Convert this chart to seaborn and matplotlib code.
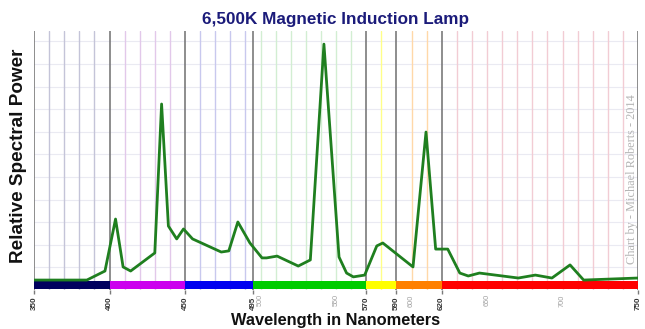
import numpy as np
import pandas as pd
import matplotlib
matplotlib.use("Agg")
import matplotlib.pyplot as plt
import seaborn as sns

# ---- data ----
wavelength = [350, 385, 397, 404, 409, 414, 430, 434.5, 439, 444.5, 449, 455, 474, 479,
              485, 493, 501, 504, 511, 525, 533, 542, 552, 557, 561.5, 569, 577, 581,
              601, 609.6, 616, 624, 632, 637.6, 645, 670.7, 682, 693, 705, 714, 750]
power = [4.4, 4.4, 8.4, 31.4, 10.2, 8.4, 16.4, 82.3, 28.3, 22.6, 27.0, 22.6, 16.8, 17.3,
         30.1, 20.8, 14.2, 14.2, 15.0, 10.6, 13.3, 108.8, 14.6, 7.5, 5.8, 6.6, 19.5, 20.8,
         10.2, 69.9, 18.1, 18.1, 7.5, 6.2, 7.5, 5.3, 6.6, 5.3, 11.1, 4.4, 5.3]

region_start = [350, 400, 450, 495, 570, 590, 620]
region_end = [400, 450, 495, 570, 590, 620, 750]
region_color = ["#00005e", "#cc00ee", "#0000f0", "#00cc00", "#ffff00", "#ff8000", "#ff0000"]
grid_color = ["#c4c4d8", "#e2c8ea", "#c8c8ee", "#d2eed2", "#ffff88", "#ffd8a8", "#f2ccd4"]

major_ticks = [350, 400, 450, 495, 570, 590, 620, 750]
minor_ticks = [500, 550, 600, 650, 700]

title = "6,500K Magnetic Induction Lamp"
xlabel = "Wavelength in Nanometers"
ylabel = "Relative Spectral Power"
credit = "Chart by - Michael Roberts - 2014"

# ---- figure ----
sns.set_theme(style="white")
plt.rcParams["font.family"] = ["Liberation Sans", "DejaVu Sans"]

fig = plt.figure(figsize=(6.45, 3.29), dpi=100)
ax = fig.add_axes([34 / 645, 39 / 329, 604 / 645, 259 / 329])
ymax = 114.6
ax.set_xlim(350, 750)
ax.set_ylim(0, ymax)

# horizontal grid
for y in np.arange(10, ymax, 10):
    ax.axhline(y, color="#eaeaf2", lw=0.8, zorder=0)

# vertical grid coloured per region
for s, e, gc in zip(region_start, region_end, grid_color):
    for x in np.arange(s + 10 - (s % 10), e, 10):
        if x in region_start or x in region_end:
            continue
        ax.axvline(x, color=gc, lw=1.0, zorder=0.5)
for b in sorted(set(region_start + region_end)):
    ax.axvline(b, color="#7a7a7a", lw=1.2, zorder=1)

# colour band
widths = [e - s for s, e in zip(region_start, region_end)]
ax.bar(region_start, 3.6, width=widths, bottom=0.44, align="edge",
       color=region_color, edgecolor="none", zorder=2)

df = pd.DataFrame({"wavelength": wavelength, "power": power})
sns.lineplot(data=df, x="wavelength", y="power", ax=ax, color="#1f7f1f", lw=2.0, zorder=3)

for sp in ax.spines.values():
    sp.set_visible(False)

ax.set_yticks([])
ax.set_xticks(major_ticks)
ax.set_xticklabels([str(t) for t in major_ticks], rotation=90, fontsize=5.8, fontweight="bold",
                   color="#333333")
ax.set_xticks(minor_ticks, minor=True)
ax.set_xticklabels([str(t) for t in minor_ticks], minor=True, rotation=90, fontsize=5.3,
                   color="#a0a0a0")
ax.tick_params(axis="x", which="major", length=3, width=1, color="#7a7a7a", pad=1.5, bottom=True)
ax.tick_params(axis="x", which="minor", length=0, pad=3)

ax.set_xlabel(xlabel, fontsize=11.8, fontweight="bold", color="#111111")
ax.xaxis.label.set_va("bottom")
ax.xaxis.set_label_coords(0.5, -0.148)
ax.set_ylabel(ylabel, fontsize=13.6, fontweight="bold", color="#111111")
ax.yaxis.set_label_coords(-0.012, 0.517)
ax.set_title(title, fontsize=12.3, fontweight="bold", color="#1b1b7a", pad=5)

ax.text(0.990, 0.43, credit, transform=ax.transAxes, rotation=90, ha="center", va="center",
        fontsize=8.8, color="#b4b4b4", family=["Liberation Serif", "DejaVu Serif"], zorder=4)

fig.savefig("out.png", dpi=100)
